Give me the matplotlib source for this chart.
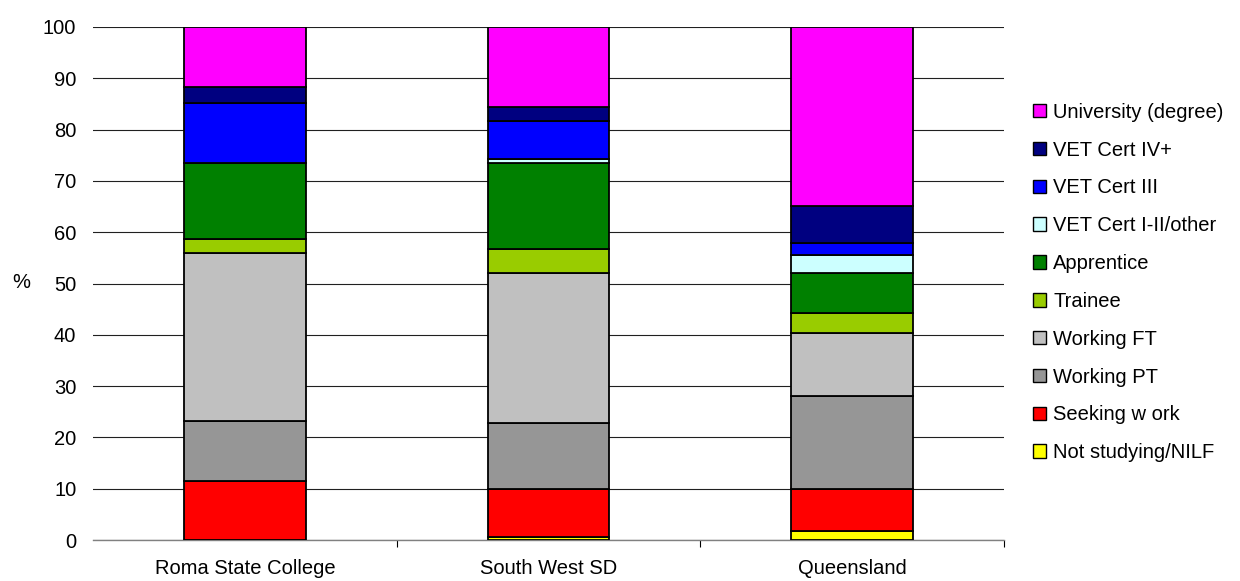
import matplotlib
matplotlib.use("Agg")
import matplotlib.pyplot as plt
import numpy as np
from matplotlib.patches import Patch

plt.rcParams['font.family'] = ['Liberation Sans', 'DejaVu Sans']

categories = ["Roma State College", "South West SD", "Queensland"]
series_names = ["Not studying/NILF", "Seeking w ork", "Working PT", "Working FT",
                "Trainee", "Apprentice", "VET Cert I-II/other", "VET Cert III",
                "VET Cert IV+", "University (degree)"]
colors = ["#FFFF00", "#FF0000", "#969696", "#C0C0C0", "#99CC00", "#008000",
          "#CCFFFF", "#0000FF", "#000080", "#FF00FF"]

not_studying = [0.0, 0.5, 1.8]
seeking_work = [11.5, 9.5, 8.2]
working_pt = [11.7, 12.9, 18.0]
working_ft = [32.8, 29.2, 12.3]
trainee = [2.7, 4.6, 4.0]
apprentice = [14.7, 16.7, 7.8]
vet_cert_i_ii = [0.0, 0.8, 3.5]
vet_cert_iii = [11.7, 7.5, 2.3]
vet_cert_iv = [3.2, 2.7, 7.2]
university = [11.7, 15.6, 34.9]

series = [not_studying, seeking_work, working_pt, working_ft, trainee, apprentice,
          vet_cert_i_ii, vet_cert_iii, vet_cert_iv, university]

fig = plt.figure(figsize=(12.4, 5.81), dpi=100)
ax = fig.add_axes([93/1240, 1-540/581, (1004-93)/1240, (540-27)/581])

x = np.arange(len(categories))
bottom = np.zeros(len(categories))
for vals, col in zip(series, colors):
    v = np.array(vals)
    ax.bar(x, v, bottom=bottom, width=0.4, color=col, edgecolor='black',
           linewidth=1.3, zorder=3)
    bottom += v

ax.set_xlim(-0.5, 2.5)
ax.set_ylim(0, 100)
ax.set_yticks(np.arange(0, 101, 10))
ax.yaxis.grid(True, color='#202020', linewidth=0.8, zorder=0)
ax.set_axisbelow(True)
for s in ['top', 'right', 'left']:
    ax.spines[s].set_visible(False)
ax.spines['bottom'].set_color('#808080')
ax.spines['bottom'].set_linewidth(1.0)

ax.set_xticks(x)
ax.set_xticklabels(categories, fontsize=14.5)
ax.tick_params(axis='x', length=0, pad=14)
ax.set_xticks([0.5, 1.5, 2.5], minor=True)
ax.tick_params(axis='x', which='minor', length=5, color='#000000', width=0.8)
ax.tick_params(axis='y', length=0, labelsize=14.5, pad=12)
fig.text(21/1240, 1-283/581, '%', fontsize=14.5, ha='center', va='center')

handles = [Patch(facecolor=c, edgecolor='black', linewidth=1.0, label=n)
           for n, c in zip(series_names, colors)]
leg = fig.legend(handles[::-1], series_names[::-1], loc='center left',
                 bbox_to_anchor=(1019/1240, 1-282.5/581), frameon=False, fontsize=14.5,
                 handlelength=0.65, handleheight=0.65, handletextpad=0.35,
                 labelspacing=0.935, borderpad=0.2)

fig.savefig('out.png', dpi=100)
